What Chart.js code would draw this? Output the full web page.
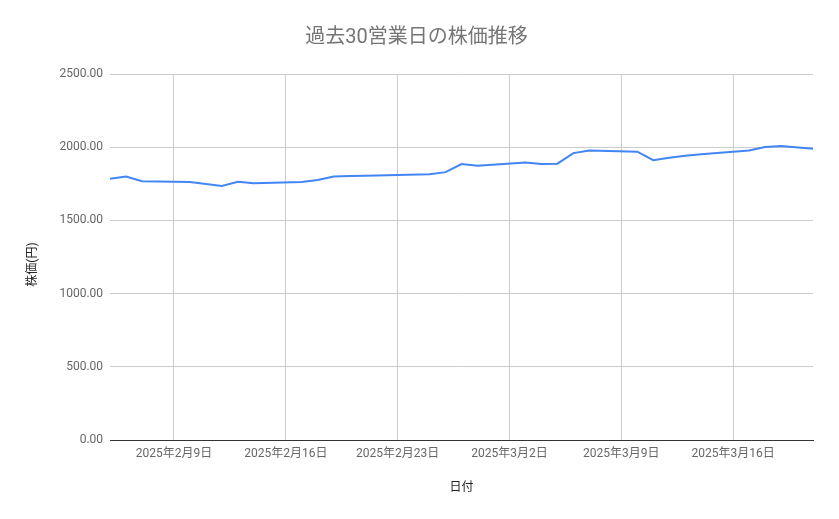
<!DOCTYPE html>
<html lang="ja">
<head>
<meta charset="utf-8">
<title>過去30営業日の株価推移</title>
<script src="https://cdn.jsdelivr.net/npm/chart.js@4/dist/chart.umd.min.js"></script>
<style>
  html, body { margin: 0; padding: 0; background: #fff; }
  #wrap { width: 839px; height: 519px; }
</style>
</head>
<body>
<div id="wrap"><canvas id="myChart"></canvas></div>
<script>
// 営業日（祝日 2/11, 2/24, 3/20 は除く）
const dates = [
    '2025-02-05', '2025-02-06', '2025-02-07',
    '2025-02-10', '2025-02-12', '2025-02-13', '2025-02-14',
    '2025-02-17', '2025-02-18', '2025-02-19', '2025-02-20', '2025-02-21',
    '2025-02-25', '2025-02-26', '2025-02-27', '2025-02-28',
    '2025-03-03', '2025-03-04', '2025-03-05', '2025-03-06', '2025-03-07',
    '2025-03-10', '2025-03-11', '2025-03-12', '2025-03-13', '2025-03-14',
    '2025-03-17', '2025-03-18', '2025-03-19', '2025-03-21'
];
const prices = [
    1785, 1800, 1768,
    1763, 1735, 1765, 1755,
    1762, 1777, 1800, 1803, 1806,
    1815, 1830, 1885, 1873,
    1895, 1885, 1888, 1960, 1978,
    1970, 1912, 1928, 1942, 1952,
    1978, 2002, 2008, 1990
];
const tickDates = ['2025-02-09', '2025-02-16', '2025-02-23', '2025-03-02', '2025-03-09', '2025-03-16'];
const yTicks = [0, 500, 1000, 1500, 2000, 2500];

const baseDate = Date.parse('2025-02-09');
const toDay = (s) => (Date.parse(s) - baseDate) / 864e5;
const fromDay = (v) => new Date(baseDate + v * 864e5);

Chart.defaults.font.family = "Roboto, 'Noto Sans CJK JP', sans-serif";
Chart.defaults.font.size = 12;

const ctx = document.getElementById('myChart').getContext('2d');
const myChart = new Chart(ctx, {
    type: 'line',
    data: {
        datasets: [{
            label: '株価',
            data: dates.map((d, i) => ({ x: toDay(d), y: prices[i] })),
            borderColor: '#4285F4',
            borderWidth: 2,
            pointRadius: 0,
            tension: 0,
            fill: false
        }]
    },
    options: {
        responsive: true,
        maintainAspectRatio: false,
        animation: false,
        layout: {
            padding: { left: 20, right: 26, top: 0, bottom: 10 }
        },
        plugins: {
            legend: { display: false },
            tooltip: { enabled: false },
            title: {
                display: true,
                text: '過去30営業日の株価推移',
                color: '#757575',
                font: { size: 20, weight: 'normal' },
                padding: { top: 26, bottom: 24 }
            }
        },
        scales: {
            x: {
                type: 'linear',
                min: toDay(dates[0]),
                max: toDay(dates[dates.length - 1]),
                afterBuildTicks: (axis) => {
                    axis.ticks = tickDates.map(d => ({ value: toDay(d) }));
                },
                ticks: {
                    color: '#666',
                    padding: 7,
                    maxRotation: 0,
                    autoSkip: false,
                    callback: (v) => {
                        const d = fromDay(v);
                        return d.getUTCFullYear() + '年' + (d.getUTCMonth() + 1) + '月' + d.getUTCDate() + '日';
                    }
                },
                grid: { color: '#cccccc', drawTicks: false },
                border: { display: true, color: '#333', width: 1 },
                title: {
                    display: true,
                    text: '日付',
                    color: '#222',
                    font: { size: 12 },
                    padding: { top: 12, bottom: 14 }
                }
            },
            y: {
                min: 0,
                max: 2500,
                afterBuildTicks: (axis) => {
                    axis.ticks = yTicks.map(v => ({ value: v }));
                },
                ticks: {
                    color: '#666',
                    padding: 7,
                    callback: (v) => Number(v).toFixed(2)
                },
                grid: { color: '#cccccc', drawTicks: false },
                border: { display: false },
                title: {
                    display: true,
                    // 末尾の空白で表示位置を少し下げる
                    text: '株価(円)     ',
                    color: '#222',
                    font: { size: 12 },
                    padding: { top: 6, bottom: 12 }
                }
            }
        }
    }
});
</script>
</body>
</html>
